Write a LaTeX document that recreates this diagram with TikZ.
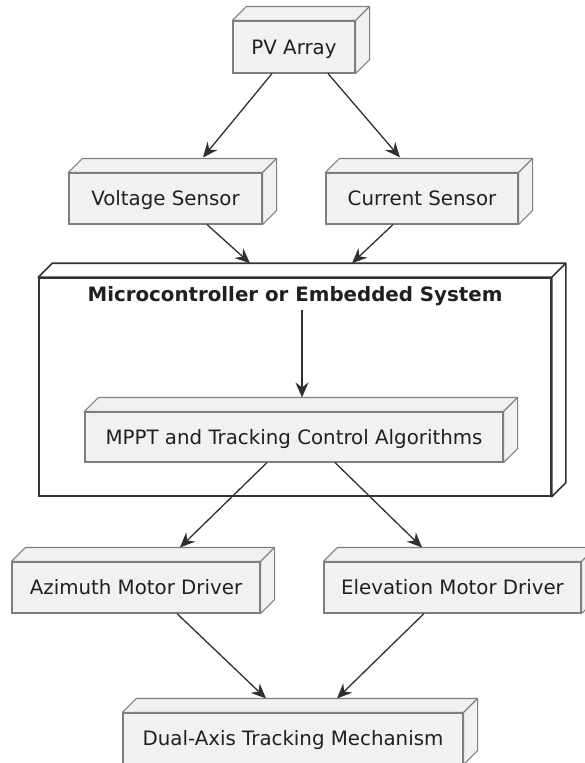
\documentclass[tikz,border=0pt]{standalone}
\usepackage{fontspec}
\setmainfont{DejaVu Sans}
\usetikzlibrary{arrows.meta}
\definecolor{boxfill}{HTML}{F1F1F1}
\definecolor{boxline}{HTML}{7E7E7E}
\definecolor{bigline}{HTML}{333333}
\definecolor{arrcol}{HTML}{303030}
\definecolor{textcol}{HTML}{202020}
\tikzset{
  cube/.style={draw=boxline, fill=boxfill, line width=1.1pt, minimum height=51pt,
    inner sep=0pt, text height=14.4pt, text depth=0pt,
    font=\fontsize{19.8}{23}\selectfont, text=textcol},
  bigbox/.style={draw=bigline, fill=white, line width=1.6pt, inner sep=0pt},
  facefill/.style={fill=boxfill, draw=boxline, line width=1.1pt, line join=round},
  bigface/.style={fill=white, draw=bigline, line width=1.6pt, line join=round},
  arr/.style={draw=arrcol, line width=1.3pt, -{Stealth[length=15pt,width=13pt,inset=5pt]}},
  titletext/.style={font=\bfseries\fontsize{19.8}{23}\selectfont, text=textcol, inner sep=0pt}
}
\newcommand\cubefaces[2]{%
  \draw[#2] (#1.north west) -- ([shift={(14pt,14pt)}]#1.north west)
    -- ([shift={(14pt,14pt)}]#1.north east) -- ([shift={(14pt,14pt)}]#1.south east)
    -- (#1.south east) -- (#1.north east) -- cycle;
  \draw[#2] (#1.north east) -- ([shift={(14pt,14pt)}]#1.north east);
}
\begin{document}
\begin{tikzpicture}[x=1pt,y=-1pt]
\useasboundingbox (0,0) rectangle (585,763);
\clip (0,0) rectangle (585,763);

% container
\node[bigbox, minimum width=512pt, minimum height=218pt] (mc) at (295,387) {};
\cubefaces{mc}{bigface}
\node[titletext] (title) at (295,296) {Microcontroller or Embedded System};

% boxes
\node[cube, minimum width=122pt, minimum height=52pt] (pv) at (294,47) {PV Array};
\cubefaces{pv}{facefill}
\node[cube, minimum width=193pt] (vs) at (165.5,198.5) {Voltage Sensor};
\cubefaces{vs}{facefill}
\node[cube, minimum width=192pt] (cs) at (422,198.5) {Current Sensor};
\cubefaces{cs}{facefill}
\node[cube, minimum width=418pt, minimum height=50pt] (mp) at (294,437) {MPPT and Tracking Control Algorithms};
\cubefaces{mp}{facefill}
\node[cube, minimum width=248pt] (az) at (136,587.5) {Azimuth Motor Driver};
\cubefaces{az}{facefill}
\node[cube, minimum width=257pt] (el) at (452.5,587.5) {Elevation Motor Driver};
\cubefaces{el}{facefill}
\node[cube, minimum width=340pt] (da) at (293,738.5) {Dual-Axis Tracking Mechanism};
\cubefaces{da}{facefill}

% connectors
\draw[arr] ([xshift=-22pt]pv.south) -- ([xshift=37.5pt,yshift=15pt]vs.north);
\draw[arr] ([xshift=34pt]pv.south) -- ([xshift=-22pt,yshift=15pt]cs.north);
\draw[arr] ([xshift=41.5pt]vs.south) -- ([xshift=-45pt,yshift=14pt]mc.north);
\draw[arr] ([xshift=-29pt]cs.south) -- ([xshift=57pt,yshift=14pt]mc.north);
\draw[arr] ([xshift=7pt,yshift=-4pt]title.south) -- ([xshift=8pt,yshift=14pt]mp.north);
\draw[arr] ([xshift=-27pt]mp.south) -- ([xshift=44pt,yshift=14pt]az.north);
\draw[arr] ([xshift=41pt]mp.south) -- ([xshift=-30.5pt,yshift=14pt]el.north);
\draw[arr] ([xshift=41pt]az.south) -- ([xshift=-27pt,yshift=14pt]da.north);
\draw[arr] ([xshift=-28.5pt]el.south) -- ([xshift=44pt,yshift=14pt]da.north);
\end{tikzpicture}
\end{document}
